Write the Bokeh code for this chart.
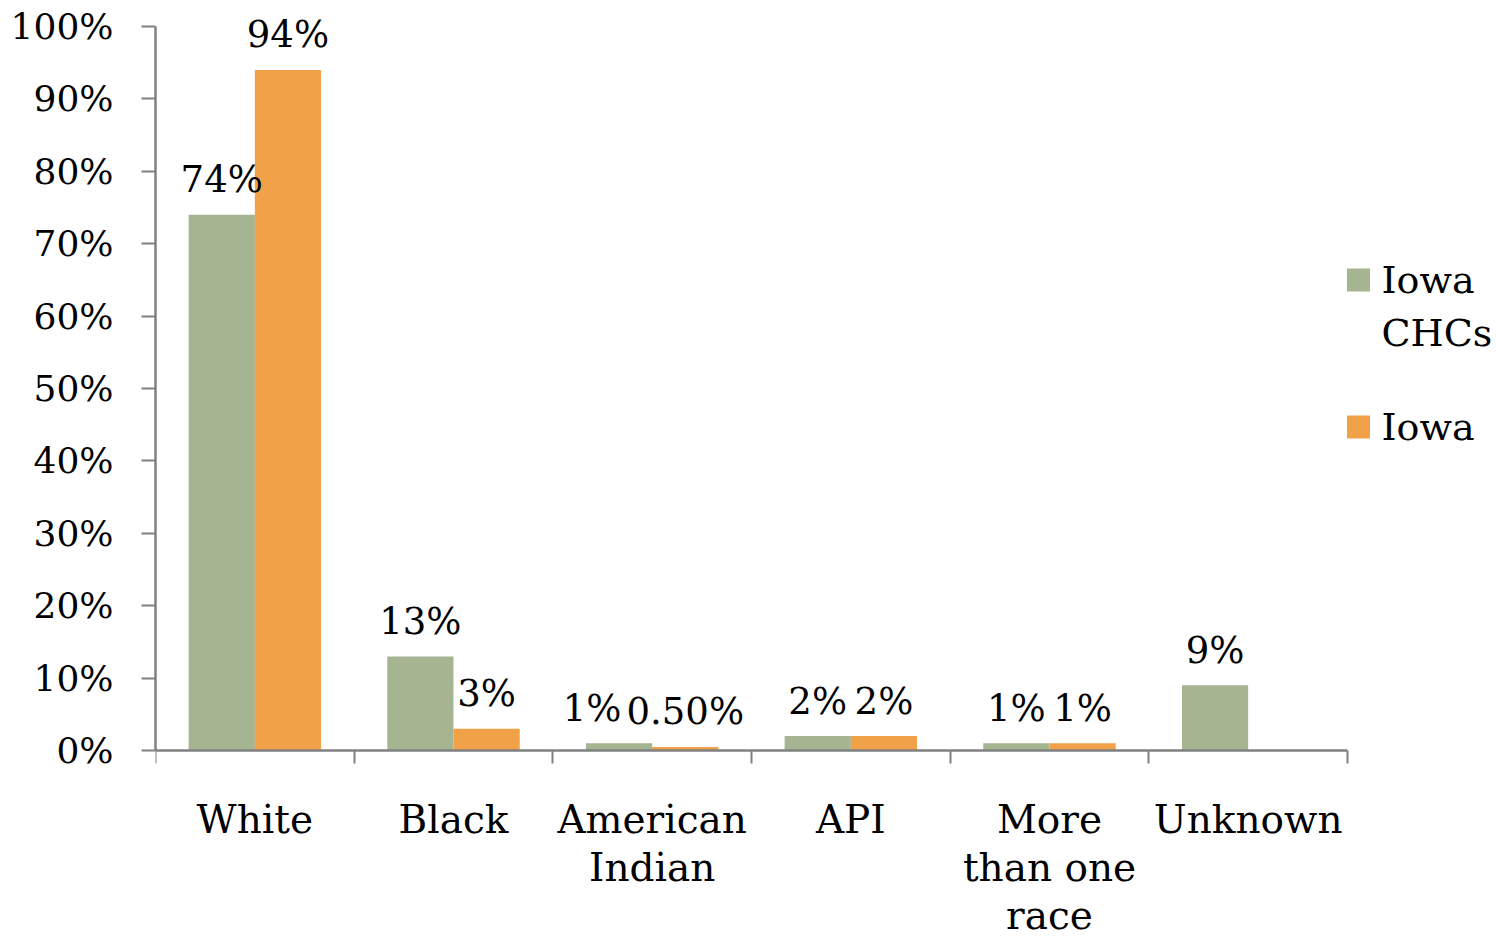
from bokeh.plotting import figure
from bokeh.models import ColumnDataSource, Range1d, FixedTicker, CustomJSTickFormatter
from bokeh.core.properties import value
from bokeh.embed import file_html
from bokeh.resources import INLINE

# Race/ethnicity share: Iowa community health center patients vs. Iowa population
categories = ["White", "Black", "American\nIndian", "API", "More\nthan one\nrace", "Unknown"]
series_names = ["Iowa\nCHCs", "Iowa"]
iowa_chcs = [74, 13, 1, 2, 1, 9]
iowa = [94, 3, 0.5, 2, 1, None]
y_ticks = [0, 10, 20, 30, 40, 50, 60, 70, 80, 90, 100]

GREEN = "#A5B592"
ORANGE = "#F1A248"
AXIS = "#808080"
FONT = "DejaVu Serif"

W, H = 1500, 941
LEFT = 155          # room for the percentage labels
AXIS_RIGHT = 1347   # the category axis stops here; the legend sits to its right
AXIS_TOP = 26       # canvas row of the 100% tick
AXIS_Y = 750        # canvas row of the 0% baseline

n = len(categories)
centers = [i + 0.5 for i in range(n)]
bar_w = 1 / 3
y_max = 100
ppu = (AXIS_Y - AXIS_TOP) / y_max   # pixels per percentage point


def fmt(v):
    return f"{v:.2f}%" if v % 1 else f"{v:.0f}%"


def px_x(px):
    """Canvas x pixel -> data x."""
    return (px - LEFT) / (AXIS_RIGHT - LEFT) * n


def px_y(py):
    """Canvas y pixel -> data y."""
    return (AXIS_Y - py) / ppu


# a small sideways nudge keeps the neighbouring "1%" and "0.50%" labels apart
nudge_g = {2: -27}

g_x = [c - bar_w / 2 for c in centers]
o_x = [c + bar_w / 2 for c in centers]
o_idx = [i for i, v in enumerate(iowa) if v is not None]

src_g = ColumnDataSource(dict(x=g_x, top=iowa_chcs, label=[fmt(v) for v in iowa_chcs],
                              dx=[nudge_g.get(i, 0) for i in range(n)]))
src_o = ColumnDataSource(dict(x=[o_x[i] for i in o_idx], top=[iowa[i] for i in o_idx],
                              label=[fmt(iowa[i]) for i in o_idx],
                              dx=[0 for _ in o_idx]))

# The frame fills the canvas right of the y labels; both axes are bounded to the
# data extent and the category axis is pinned at 0 so its labels hang below it.
p = figure(width=W, height=H, output_backend="svg", toolbar_location=None,
           x_range=Range1d(0, px_x(W)), y_range=Range1d(px_y(H), px_y(0)),
           min_border_left=LEFT, min_border_right=0, min_border_top=0,
           min_border_bottom=0)
p.outline_line_color = None
p.grid.visible = False
p.background_fill_color = "white"
p.border_fill_color = "white"

p.vbar(x="x", top="top", width=bar_w, source=src_g, fill_color=GREEN, line_color=None)
p.vbar(x="x", top="top", width=bar_w, source=src_o, fill_color=ORANGE, line_color=None)

for s in (src_g, src_o):
    p.text(x="x", y="top", text="label", source=s, text_align="center",
           text_baseline="alphabetic", x_offset="dx", y_offset=-35,
           text_font=value(FONT), text_font_size="37px", text_color="black")

# legend, drawn by hand so the swatch lines up with the first text line
leg_colors = [GREEN, ORANGE]
leg_tops = [268, 415]
p.rect(x=[px_x(1358)] * 2, y=[px_y(t + 11.5) for t in leg_tops], width=23, height=23,
       width_units="screen", height_units="screen", fill_color=leg_colors, line_color=None)
p.text(x=[px_x(1381)] * 2, y=[px_y(t - 11) for t in leg_tops], text=series_names,
       text_align="left", text_baseline="top", text_font=value(FONT),
       text_font_size="38px", text_line_height=1.22, text_color="black")

# x axis: category names at the centres, tick marks at the category boundaries
xa = p.xaxis[0]
xa.fixed_location = 0
xa.ticker = FixedTicker(ticks=centers, minor_ticks=list(range(n + 1)))
xa.major_label_overrides = {c: name for c, name in zip(centers, categories)}
xa.bounds = (0, n)
xa.major_tick_out = 0
xa.major_tick_in = 0
xa.minor_tick_out = 13
xa.minor_tick_in = 0
xa.minor_tick_line_color = AXIS
xa.minor_tick_line_width = 2
xa.axis_line_color = AXIS
xa.axis_line_width = 2.5
xa.major_label_text_font = FONT
xa.major_label_text_font_size = "39px"
xa.major_label_text_line_height = 1.07
xa.major_label_text_color = "black"
xa.major_label_standoff = 33

ya = p.yaxis[0]
ya.ticker = FixedTicker(ticks=y_ticks, minor_ticks=[])
ya.formatter = CustomJSTickFormatter(code="return tick + '%';")
ya.bounds = (0, y_max)
ya.major_tick_out = 14
ya.major_tick_in = 0
ya.major_tick_line_color = AXIS
ya.major_tick_line_width = 2
ya.axis_line_color = AXIS
ya.axis_line_width = 2.5
ya.major_label_text_font = FONT
ya.major_label_text_font_size = "36px"
ya.major_label_text_color = "black"
ya.major_label_standoff = 28

open("out.html", "w").write(file_html(p, INLINE))
